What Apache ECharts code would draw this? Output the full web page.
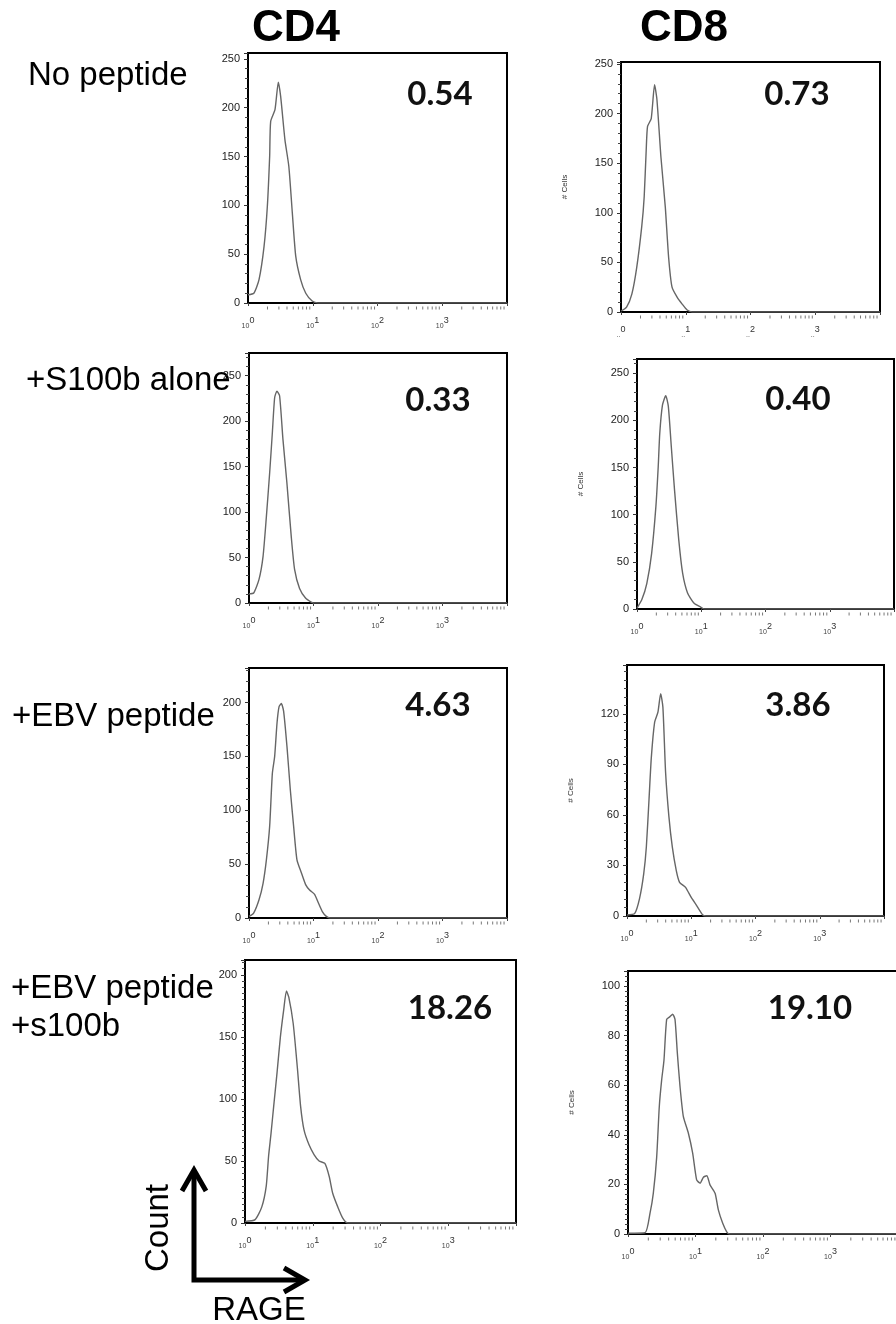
<!DOCTYPE html>
<html>
<head>
<meta charset="utf-8">
<script src="https://cdn.jsdelivr.net/npm/echarts@6/dist/echarts.min.js"></script>
<style>
  html, body { margin: 0; padding: 0; background: #fff; }
  #chart { width: 896px; height: 1324px; }
</style>
</head>
<body>
<div id="chart"></div>
<script>
// ---------------------------------
// Data
// ---------------------------------
const COLUMNS = ['CD4', 'CD8'];
const ROWS = ['No peptide', '+S100b alone', '+EBV peptide', '+EBV peptide\n+s100b'];
// % RAGE+ for each panel, row by row (CD4, CD8)
const PERCENTS = ['0.54', '0.73', '0.33', '0.40', '4.63', '3.86', '18.26', '19.10'];
// y axis top and tick step of each panel
const Y_MAX = [256, 252, 275, 265, 232, 149, 212, 106];
const Y_STEP = [50, 50, 50, 50, 50, 30, 50, 20];
// base text of the decade labels (the first CD8 panel prints '..')
const X_LABEL_BASE = ['10', '..', '10', '10', '10', '10', '10', '10'];
// log minor ticks between decades
const MINOR_X = [2, 3, 4, 5, 6, 7, 8, 9, 20, 30, 40, 50, 60, 70, 80, 90,
  200, 300, 400, 500, 600, 700, 800, 900, 2000, 3000, 4000, 5000, 6000, 7000, 8000, 9000];

// histograms: [RAGE intensity, count]
const cd4NoPeptide = [[1.0, 8.5], [1.23, 10], [1.48, 24], [1.77, 58], [1.99, 99], [2.16, 150], [2.24, 186],
  [2.61, 198], [2.94, 226], [3.2, 211], [3.72, 167], [4.27, 140], [4.84, 92], [5.46, 48], [6.5, 24],
  [7.8, 10], [9.8, 2], [12, 0], [10000, 0]];
const cd8NoPeptide = [[1.0, 1], [1.22, 5], [1.47, 18], [1.75, 45], [2.09, 86], [2.28, 116], [2.45, 163],
  [2.57, 187], [2.93, 195], [3.3, 229], [3.59, 214], [4.14, 156], [4.83, 106], [5.44, 55], [6.14, 25],
  [7.35, 15], [8.8, 8], [10.5, 2], [12.5, 0], [10000, 0]];
const cd4S100b = [[1.0, 10], [1.18, 11], [1.43, 26], [1.65, 51], [1.86, 95], [2.09, 143], [2.3, 187],
  [2.5, 226], [2.71, 233], [2.98, 228], [3.36, 180], [3.87, 132], [4.52, 73], [5.09, 37], [6.08, 16],
  [7.52, 5.5], [9.2, 1], [10, 0], [10000, 0]];
const cd8S100b = [[1.0, 1], [1.19, 10], [1.42, 27], [1.69, 59], [1.97, 109], [2.14, 151], [2.26, 186],
  [2.49, 216], [2.8, 226], [3.07, 215], [3.42, 172], [3.84, 126], [4.47, 73], [5.13, 38], [6.12, 17],
  [7.74, 6], [9.8, 2], [11, 0], [10000, 0]];
const cd4Ebv = [[1.0, 1.5], [1.18, 4.6], [1.43, 17], [1.65, 32], [1.86, 54], [2.09, 85], [2.3, 134],
  [2.5, 150], [2.72, 181], [2.92, 196], [3.17, 199], [3.44, 192], [3.88, 159], [4.37, 119], [4.92, 85],
  [5.54, 54], [6.48, 42], [7.55, 31], [8.7, 26], [10.4, 22], [11.7, 15], [13.7, 6], [15.8, 1.5],
  [17.8, 0], [10000, 0]];
const cd8Ebv = [[1.0, 0.6], [1.32, 1.6], [1.57, 10.5], [1.82, 25], [2.0, 41], [2.2, 69], [2.39, 94],
  [2.69, 115], [3.03, 121], [3.34, 132], [3.62, 124], [3.99, 85], [4.49, 59], [5.07, 41], [5.85, 27],
  [6.58, 20], [8.15, 17], [10, 11], [12, 6.5], [15.1, 0.6], [17, 0], [10000, 0]];
const cd4EbvS100b = [[1.0, 1.3], [1.41, 2.7], [1.77, 13], [2.06, 30], [2.23, 54], [2.42, 72], [2.65, 94],
  [2.97, 121], [3.33, 150], [3.73, 172], [4.09, 187], [4.43, 182], [5.14, 161], [5.91, 126], [6.62, 94],
  [7.43, 75], [8.81, 63], [10.5, 55], [12.4, 50], [15.1, 48], [17.5, 37.5], [19.7, 24], [23.4, 13],
  [27.7, 4], [33, 0], [10000, 0]];
const cd8EbvS100b = [[1.0, 0.3], [1.79, 0.5], [2.12, 8.4], [2.37, 16.4], [2.66, 31], [2.91, 51.5],
  [3.15, 62], [3.41, 70], [3.74, 86.5], [4.19, 87.6], [4.59, 88.6], [4.97, 86.5], [5.38, 73], [5.89, 59.6],
  [6.6, 47.4], [7.83, 40.7], [9.08, 32.6], [10.4, 21.8], [11.7, 20.5], [13.1, 22.9], [14.7, 23.5],
  [16.4, 19.8], [19.5, 16.4], [21.8, 9.7], [25.3, 4.3], [29, 0.9], [32, 0], [10000, 0]];

const HISTS = [cd4NoPeptide, cd8NoPeptide, cd4S100b, cd8S100b, cd4Ebv, cd8Ebv, cd4EbvS100b, cd8EbvS100b];

// ---------------------------------
// Layout
// ---------------------------------
const BOXES = [
  [248, 53, 259, 250], [621, 62, 259, 250],
  [249, 353, 258, 250], [637, 359, 257, 250],
  [249, 668, 258, 250], [627, 665, 257, 251],
  [245, 960, 271, 263], [628, 971, 270, 263]
];
const PCT_POS = [[440, 94], [797, 94], [438, 400], [798, 399], [438, 705], [798, 705], [450, 1008], [810, 1008]];
const MINOR_SPLIT = [5, 5, 5, 5, 5, 6, 10, 10];
const FONT = 'Liberation Sans, Arial, sans-serif';

const grids = [], xAxes = [], yAxes = [], series = [];

for (let i = 0; i < 8; i++) {
  const [l, t, w, h] = BOXES[i];
  const isCD8 = i % 2 === 1;
  const step = Y_STEP[i];
  const base = X_LABEL_BASE[i];
  grids.push({
    left: l, top: t, width: w, height: h,
    show: true, borderColor: '#000', borderWidth: 2,
    outerBoundsMode: 'none', containLabel: false
  });
  xAxes.push({
    type: 'log', logBase: 10, min: 1, max: 10000, gridIndex: i,
    axisLine: { show: true, onZero: false, lineStyle: { color: '#000', width: 2 } },
    axisTick: { show: true, length: 3, lineStyle: { color: '#444', width: 1 } },
    splitLine: { show: false },
    axisLabel: {
      margin: 13, color: '#333', fontFamily: FONT, lineHeight: 14,
      formatter: function (v) {
        const e = Math.round(Math.log10(v));
        return e >= 4 ? '' : '{b|' + base + '}{s|' + e + '}';
      },
      rich: {
        b: { fontSize: 7, color: '#444', fontFamily: FONT, verticalAlign: 'bottom', lineHeight: 14 },
        s: { fontSize: 9, color: '#333', fontFamily: FONT, verticalAlign: 'top', lineHeight: 14 }
      }
    }
  });
  yAxes.push({
    type: 'value', min: 0, max: Y_MAX[i], interval: step, gridIndex: i,
    name: isCD8 ? '# Cells' : '',
    nameLocation: 'middle', nameGap: 52, nameRotate: 90,
    nameTextStyle: { fontSize: 8, color: '#333', fontFamily: FONT },
    axisLine: { show: true, lineStyle: { color: '#000', width: 2 } },
    axisTick: { show: true, length: 4, lineStyle: { color: '#333', width: 1 } },
    minorTick: { show: true, splitNumber: MINOR_SPLIT[i], length: 3, lineStyle: { color: '#444', width: 1 } },
    splitLine: { show: false },
    minorSplitLine: { show: false },
    axisLabel: {
      margin: 8, fontSize: 11, color: '#222', fontFamily: FONT,
      formatter: v => (v % step === 0 ? String(v) : '')
    }
  });
  series.push({
    type: 'line', xAxisIndex: i, yAxisIndex: i,
    data: HISTS[i], showSymbol: false, smooth: 0.2,
    lineStyle: { color: '#666', width: 1.4 },
    z: 3
  });
  series.push({
    type: 'scatter', xAxisIndex: i, yAxisIndex: i,
    data: MINOR_X.map(v => [v, 0]),
    symbol: 'rect', symbolSize: [1, 3], symbolOffset: [0, 5],
    itemStyle: { color: '#555' }, clip: false, silent: true, z: 1
  });
}

// texts and the Count / RAGE arrows
const graphic = [];
COLUMNS.forEach((c, j) => {
  graphic.push({
    type: 'text', x: j === 0 ? 252 : 640, y: 29,
    style: { text: c, fontSize: 44, fontWeight: 'bold', fontFamily: FONT, fill: '#000', align: 'left', verticalAlign: 'middle' }
  });
});
const ROW_POS = [[28, 76], [26, 381], [12, 717], [11, 1008]];
ROWS.forEach((r, i) => {
  graphic.push({
    type: 'text', x: ROW_POS[i][0], y: ROW_POS[i][1],
    style: { text: r, fontSize: 33, lineHeight: 38, fontFamily: FONT, fill: '#000', align: 'left', verticalAlign: 'middle' }
  });
});
PERCENTS.forEach((p, i) => {
  graphic.push({
    type: 'text', x: PCT_POS[i][0], y: PCT_POS[i][1],
    style: { text: p, fontSize: 33, fontWeight: 'bold', fontFamily: 'Lato, Open Sans, sans-serif', fill: '#111', align: 'center', verticalAlign: 'middle' }
  });
});
graphic.push(
  { type: 'polyline', shape: { points: [[194, 1172], [194, 1280], [302, 1280]] },
    style: { stroke: '#000', lineWidth: 5, fill: null, lineJoin: 'miter' } },
  { type: 'polyline', shape: { points: [[182, 1191], [194, 1170], [206, 1191]] },
    style: { stroke: '#000', lineWidth: 5, fill: null, lineJoin: 'miter' } },
  { type: 'polyline', shape: { points: [[284, 1268], [305, 1280], [284, 1292]] },
    style: { stroke: '#000', lineWidth: 5, fill: null, lineJoin: 'miter' } },
  { type: 'text', x: 159, y: 1228, rotation: Math.PI / 2,
    style: { text: 'Count', fontSize: 33, fontFamily: FONT, fill: '#000', align: 'center', verticalAlign: 'middle' } },
  { type: 'text', x: 259, y: 1311,
    style: { text: 'RAGE', fontSize: 33, fontFamily: FONT, fill: '#000', align: 'center', verticalAlign: 'middle' } }
);

var chartDom = document.getElementById('chart');
var myChart = echarts.init(chartDom, null, { renderer: 'canvas' });
var option = {
  backgroundColor: '#fff',
  animation: false,
  grid: grids,
  xAxis: xAxes,
  yAxis: yAxes,
  series: series,
  graphic: graphic
};
myChart.setOption(option);
</script>
</body>
</html>
